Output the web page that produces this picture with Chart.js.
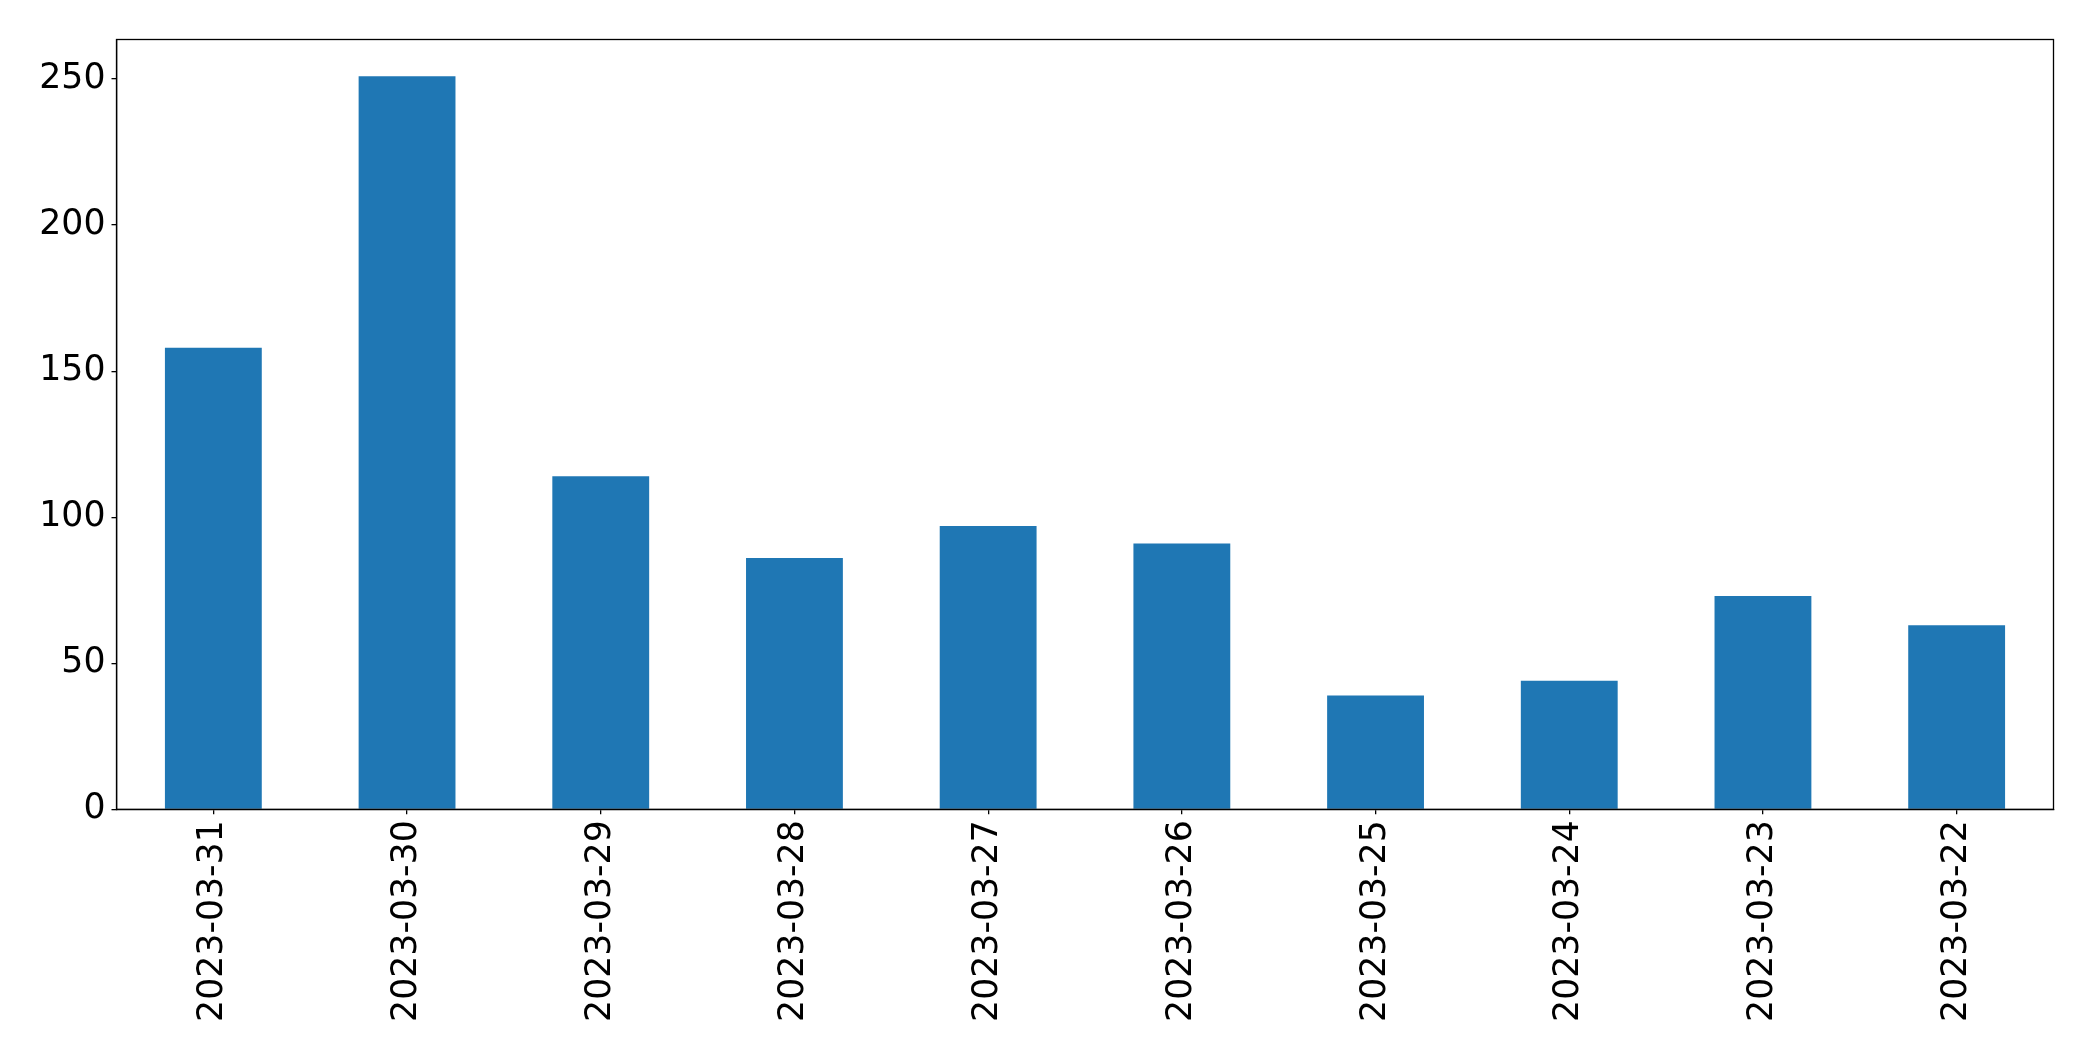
<!DOCTYPE html>
<html>
<head>
<meta charset="utf-8">
<script src="https://cdn.jsdelivr.net/npm/chart.js@4"></script>
<style>
    html, body { margin: 0; padding: 0; background: #fff; }
    #wrap { width: 2093px; height: 1061px; }
</style>
</head>
<body>
<div id="wrap"><canvas id="mainChart" width="2093" height="1061"></canvas></div>
<script>
'use strict';

const dates = ['2023-03-31', '2023-03-30', '2023-03-29', '2023-03-28', '2023-03-27',
               '2023-03-26', '2023-03-25', '2023-03-24', '2023-03-23', '2023-03-22'];
const counts = [158, 251, 114, 86, 97, 91, 39, 44, 73, 63];
const yTicks = [0, 50, 100, 150, 200, 250];

const BAR_COLOR = '#1f77b4';
const FONT = { family: 'DejaVu Sans', size: 34.7 };

// matplotlib-style frame around the plot area (top and right sides)
const framePlugin = {
    id: 'frame',
    afterDraw(chart) {
        const { ctx, chartArea: a } = chart;
        ctx.save();
        ctx.strokeStyle = '#000';
        ctx.lineWidth = 1.3;
        ctx.strokeRect(a.left, a.top, a.right - a.left, a.bottom - a.top);
        ctx.restore();
    }
};

const yMax = Math.max(...counts) * 1.05;

new Chart(document.getElementById('mainChart').getContext('2d'), {
    type: 'bar',
    data: {
        labels: dates,
        datasets: [{
            data: counts,
            backgroundColor: BAR_COLOR,
            borderWidth: 0,
            barPercentage: 0.5,
            categoryPercentage: 1.0,
        }]
    },
    options: {
        responsive: false,
        animation: false,
        layout: { padding: { top: 39.5, right: 39.5, left: 0, bottom: 0 } },
        plugins: { legend: { display: false }, tooltip: { enabled: false } },
        scales: {
            x: {
                offset: true,
                afterFit: s => { s.height = 1061 - 809.3; },
                grid: { display: true, offset: false, drawOnChartArea: false, drawTicks: true, tickLength: 5, color: '#000', lineWidth: 1.3 },
                border: { display: true, color: '#000', width: 1.3 },
                ticks: { color: '#000', font: FONT, minRotation: 90, maxRotation: 90, padding: 6, autoSkip: false }
            },
            y: {
                min: 0,
                max: yMax,
                afterFit: s => { s.width = 116.5; },
                afterBuildTicks: s => { s.ticks = yTicks.map(v => ({ value: v })); },
                grid: { display: true, drawOnChartArea: false, drawTicks: true, tickLength: 5, color: '#000', lineWidth: 1.3 },
                border: { display: true, color: '#000', width: 1.3 },
                ticks: { color: '#000', font: FONT, padding: 6 }
            }
        }
    },
    plugins: [framePlugin]
});
</script>
</body>
</html>
